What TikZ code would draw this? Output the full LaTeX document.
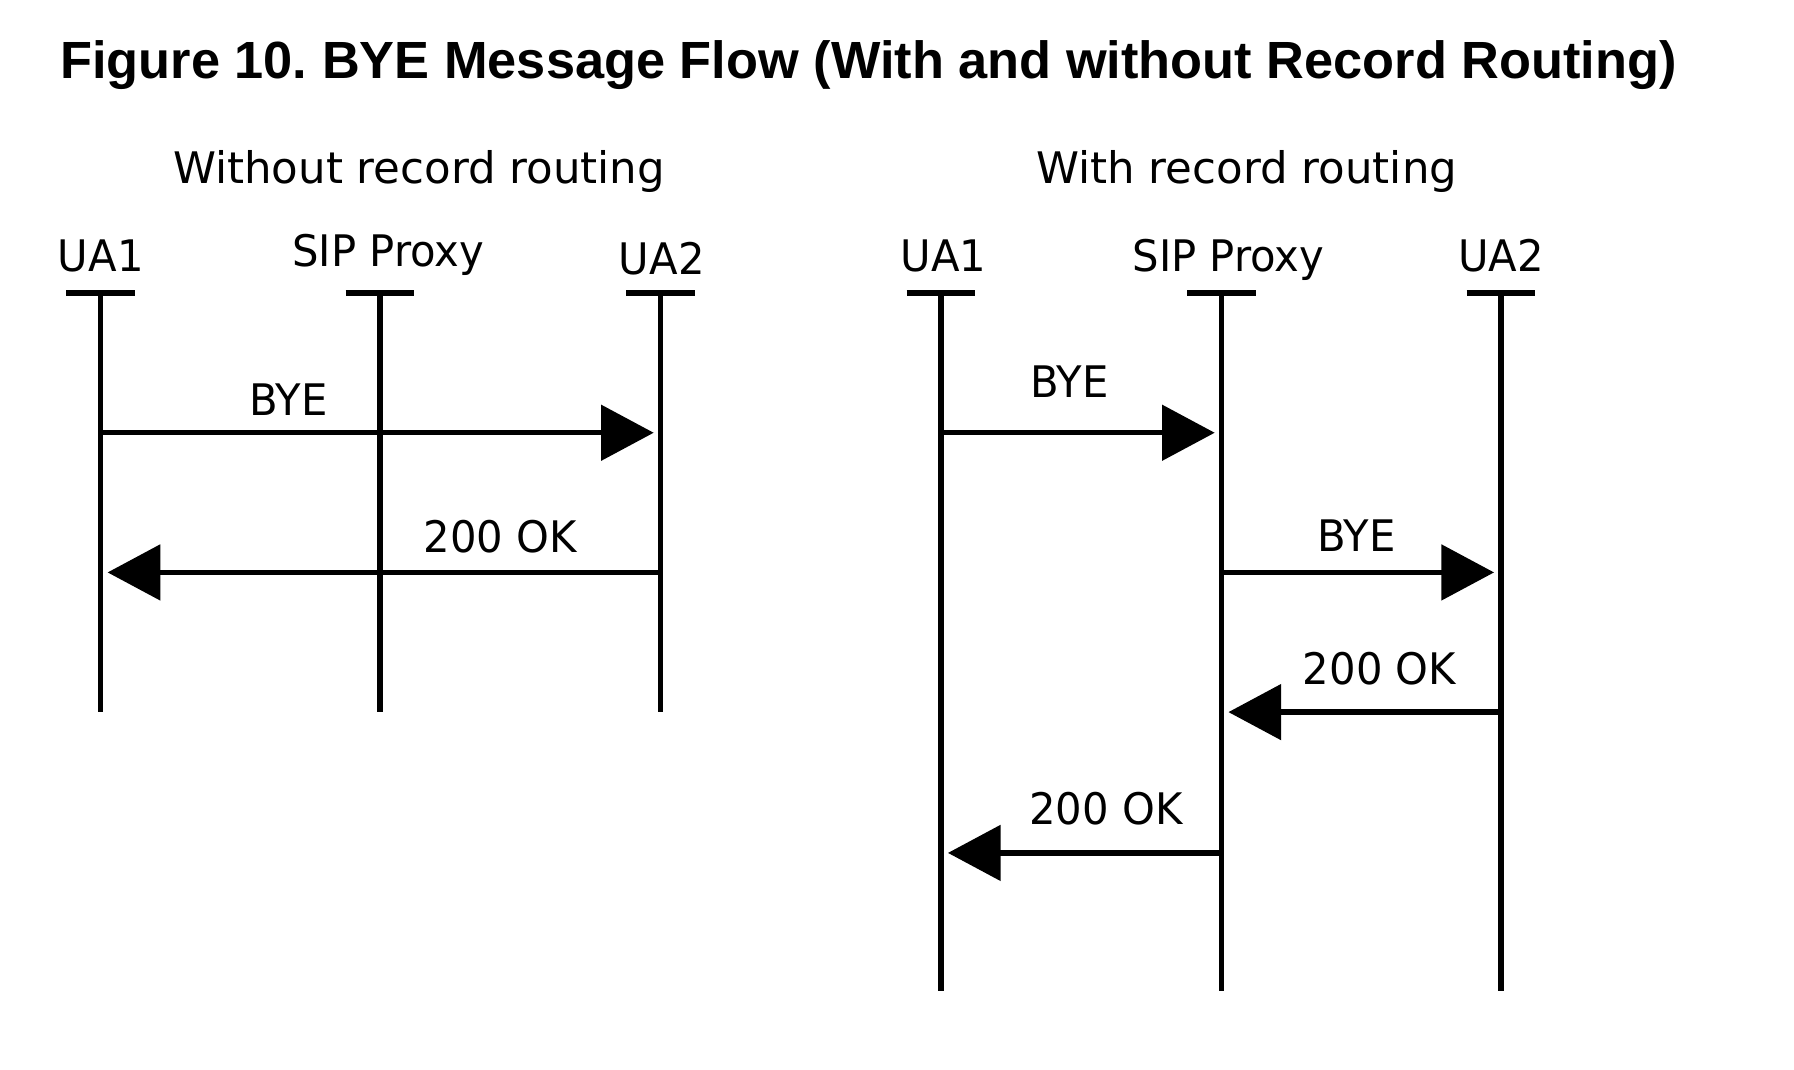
\documentclass[tikz,border=0pt]{standalone}
\usepackage{fontspec}
\usepackage{tikz}
\usetikzlibrary{arrows.meta}
\setmainfont{DejaVu Sans}
\newfontfamily\slimfont{DejaVu Sans}[FakeStretch=0.96]
\newfontfamily\headfont{Liberation Sans}
\frenchspacing

\tikzset{
  lbl/.style={font=\fontsize{10.8}{13}\selectfont, inner sep=0pt, anchor=base},
  tag/.style={lbl, font=\slimfont\fontsize{10.8}{13}\selectfont},
  life/.style={line width=1.3pt},
  msg/.style={line width=1.3pt, -{Triangle[length=0.46cm, width=0.48cm]}, shorten >=0.06cm}
}

\begin{document}
\begin{tikzpicture}[x=0.01cm, y=-0.01cm]
  \useasboundingbox (0,0) rectangle (1567,934.6);

  \node [anchor=base west, inner sep=0pt, font=\headfont\bfseries\fontsize{13}{15}\selectfont] (title) at (52,68.5)
        {Figure 10. BYE Message Flow (With and without Record Routing)};

  % without record routing
  \node [lbl] (left) at (366,160) {Without record routing};
  \node [tag] (ua1) at (88,237) {UA1};
  \node [tag] (proxy) at (339,233) {SIP Proxy};
  \node [tag] (ua2) at (578,240) {UA2};
  \coordinate (la) at (88,256);
  \coordinate (lb) at (332,256);
  \coordinate (lc) at (577,256);

  \draw [life] ([xshift=-0.3cm]la) -- ([xshift=0.3cm]la) (la) -- ++(0,366);
  \draw [life] ([xshift=-0.3cm]lb) -- ([xshift=0.3cm]lb) (lb) -- ++(0,366);
  \draw [life] ([xshift=-0.3cm]lc) -- ([xshift=0.3cm]lc) (lc) -- ++(0,366);

  \coordinate (m1) at (0,378);
  \coordinate (m2) at (0,500);
  \draw [msg] (la |- m1) -- (lc |- m1);
  \draw [msg] (lc |- m2) -- (la |- m2);
  \node [tag] (bye1) at (252,363) {BYE};
  \node [tag] (ok1) at (437,483) {200 OK};

  % with record routing
  \node [lbl] (right) at (1089,160) {With record routing};
  \node [tag] (rua1) at (824,237) {UA1};
  \node [tag] (rproxy) at (1073,237) {SIP Proxy};
  \node [tag] (rua2) at (1311,237) {UA2};
  \coordinate (ra) at (822,256);
  \coordinate (rb) at (1067,256);
  \coordinate (rc) at (1311,256);

  \draw [life] ([xshift=-0.3cm]ra) -- ([xshift=0.3cm]ra) (ra) -- ++(0,610);
  \draw [life] ([xshift=-0.3cm]rb) -- ([xshift=0.3cm]rb) (rb) -- ++(0,610);
  \draw [life] ([xshift=-0.3cm]rc) -- ([xshift=0.3cm]rc) (rc) -- ++(0,610);

  \coordinate (n1) at (0,378);
  \coordinate (n2) at (0,500);
  \coordinate (n3) at (0,622);
  \coordinate (n4) at (0,745);
  \draw [msg] (ra |- n1) -- (rb |- n1);
  \draw [msg] (rb |- n2) -- (rc |- n2);
  \draw [msg] (rc |- n3) -- (rb |- n3);
  \draw [msg] (rb |- n4) -- (ra |- n4);
  \node [tag] (bye2) at (934,347) {BYE};
  \node [tag] (bye3) at (1185,482) {BYE};
  \node [tag] (ok2) at (1205,598) {200 OK};
  \node [tag] (ok3) at (966,720) {200 OK};
\end{tikzpicture}
\end{document}
